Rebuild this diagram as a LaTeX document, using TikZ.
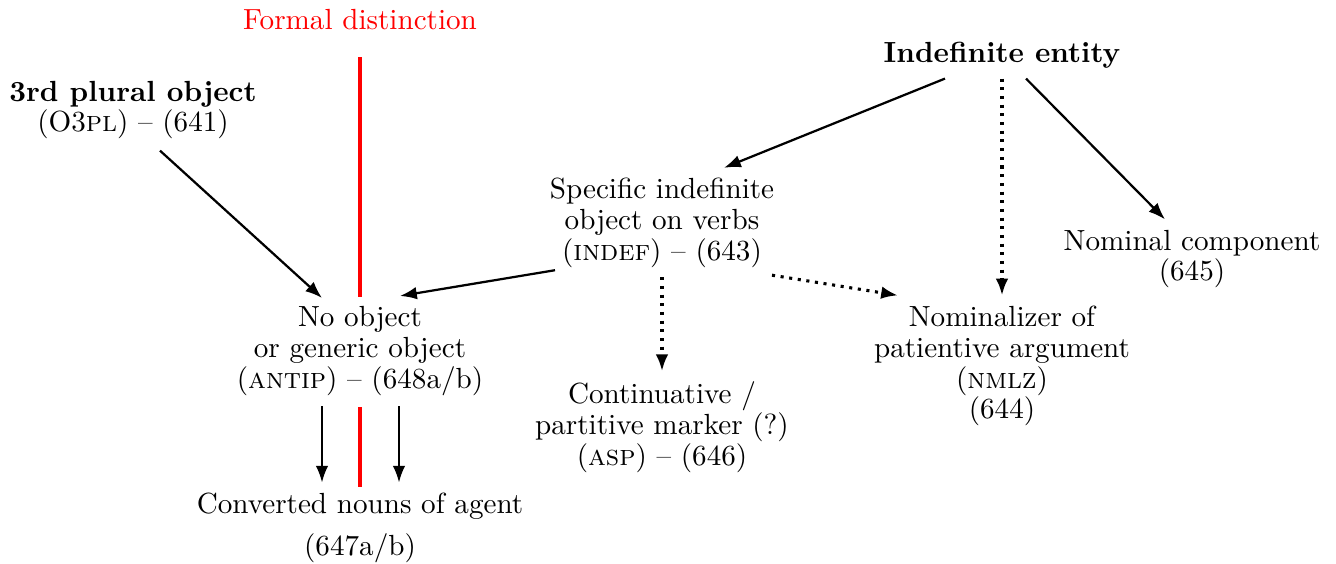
\documentclass[tikz,border=0pt]{standalone}
\usetikzlibrary{arrows.meta}
\begin{document}
\begin{tikzpicture}[x=0.01255cm, y=-0.01255cm, thick, >={Latex[length=6pt,width=4.5pt]},
    every node/.style={font=\fontsize{10.4}{11}\selectfont}]
    \useasboundingbox (0,0) rectangle (1336,563);
    \node [red] (formal) at (360,20) {Formal distinction};
    \node [align=center] (o3pl) at (133,110) {\textbf{3rd plural object}\\(O3\textsc{pl}) -- (641)};
    \node [align=center] (indent) at (1002,55) {\textbf{Indefinite entity}};
    \node [align=center] (indef) at (662,223) {Specific indefinite\\object on verbs\\(\textsc{indef}) -- (643)};
    \node [align=center] (nomcomp) at (1192,259) {Nominal component\\(645)};
    \node [align=center] (antip) at (360,351) {No object\\or generic object\\(\textsc{antip}) -- (648a/b)};
    \node [align=center] (asp) at (662,427) {Continuative /\\partitive marker (?)\\(\textsc{asp}) -- (646)};
    \node [align=center] (nmlz) at (1002,366) {Nominalizer of\\patientive argument\\(\textsc{nmlz})\\(644)};
    \node [align=center] (agent) at (360,528) {Converted nouns of agent\\[4pt](647a/b)};
    
    \draw [red, line width=1.3pt] (360,57) -- (360,297);
    \draw [red, line width=1.3pt] (360,407) -- (360,487);
    
    \draw[->] (o3pl.south) ++(27,1) -- ([shift={(-38,2)}]antip.north);
    \draw[->] (indent.south) ++(-57,0) -- ([shift={(62,0)}]indef.north);
    \draw[->,dotted,line width=1.1pt] (indent.south) -- (nmlz.north);
    \draw[->] (indent.south) ++(24,0) -- ([shift={(-27,0)}]nomcomp.north);
    \draw[->] (indef.south) ++(-107,-8) -- ([shift={(40,0)}]antip.north);
    \draw[->,dotted,line width=1.1pt] (indef.south) ++(0,-1) -- (asp.north);
    \draw[->,dotted,line width=1.1pt] (indef.south) ++(110,-3) -- ([shift={(-104,0)}]nmlz.north);
    \draw[->] (antip.south) ++(-38,0) -- ([shift={(-38,0)}]agent.north);
    \draw[->] (antip.south) ++(39,0) -- ([shift={(39,0)}]agent.north);
    
\end{tikzpicture}
\end{document}
